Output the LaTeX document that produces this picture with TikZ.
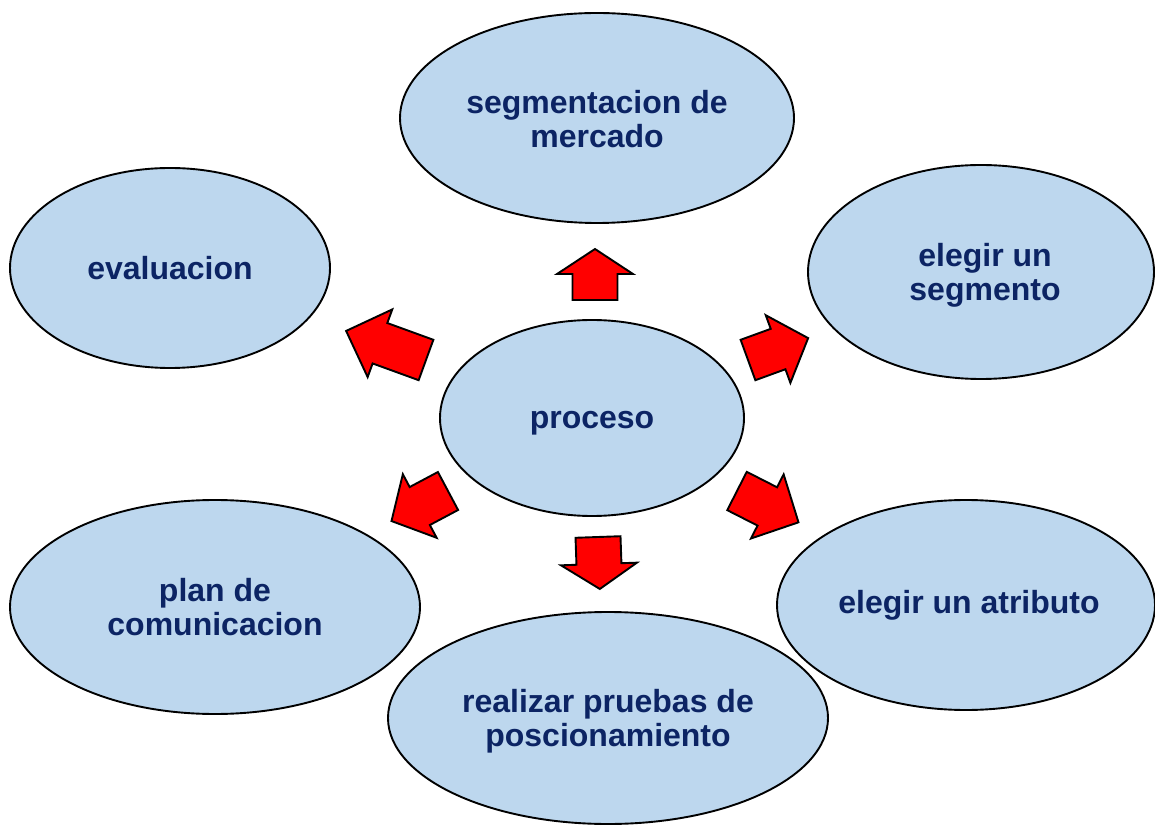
\documentclass[tikz,border=0pt]{standalone}
\usepackage{fontspec}
\setmainfont{Liberation Sans}
\usetikzlibrary{shapes.geometric}
\definecolor{bubble}{RGB}{189,215,238}
\definecolor{navy}{RGB}{12,36,100}
\definecolor{arrred}{RGB}{255,0,0}
\tikzset{
  bub/.style={ellipse, draw=black, line width=1.9pt, fill=bubble, inner sep=0pt},
  btext/.style={align=center, text=navy, inner sep=0pt, font=\bfseries\fontsize{32}{34}\selectfont},
  arrstyle/.style={draw=black, line width=1.9pt, fill=arrred, line join=miter},
  pics/barrow/.style args={#1/#2/#3/#4}{code={
    \draw[arrstyle] (0,-#3) -- ({#1-#2},-#3) -- ({#1-#2},-#4) -- (#1,0)
      -- ({#1-#2},#4) -- ({#1-#2},#3) -- (0,#3) -- cycle;}}
}
\begin{document}
\begin{tikzpicture}[x=1pt,y=1pt]
\useasboundingbox (0,0) rectangle (1155,825);
\node[bub, minimum width=394pt, minimum height=210pt] (seg) at (597,707) {};
\node[btext] (segt) at ([yshift=-1pt]seg.center) {segmentacion de\\mercado};
\node[bub, minimum width=320pt, minimum height=200pt] (eval) at (170,557) {};
\node[btext] (evalt) at (eval.center) {evaluacion};
\node[bub, minimum width=346pt, minimum height=214pt] (elseg) at (981,553) {};
\node[btext] (elsegt) at ([xshift=4pt,yshift=-3pt]elseg.center) {elegir un\\segmento};
\node[bub, minimum width=304pt, minimum height=196pt] (proc) at (592,407) {};
\node[btext] (proct) at ([yshift=-5pt]proc.center) {proceso};
\node[bub, minimum width=410pt, minimum height=214pt] (plan) at (215,218) {};
\node[btext] (plant) at (plan.center) {plan de\\comunicacion};
\node[bub, minimum width=378pt, minimum height=210pt] (atrib) at (966,220) {};
\node[btext] (atribt) at ([xshift=3pt]atrib.center) {elegir un atributo};
\node[bub, minimum width=440pt, minimum height=212pt] (real) at (608,107) {};
\node[btext] (realt) at ([yshift=-3pt]real.center) {realizar pruebas de\\poscionamiento};
\pic[rotate=90] (a1) at (595,525) {barrow=51/25/22.5/38};
\pic[rotate=160] (a2) at (426,465) {barrow=85/36/21.5/36};
\pic[rotate=20] (a3) at (748,465) {barrow=64/32/21.5/36};
\pic[rotate=208] (a4) at (448,334) {barrow=64/32/21.5/36};
\pic[rotate=-27] (a5) at (737,334) {barrow=69/35/21.5/36};
\pic[rotate=-88] (a6) at (598,288) {barrow=52/25/22.5/38};
\end{tikzpicture}
\end{document}
